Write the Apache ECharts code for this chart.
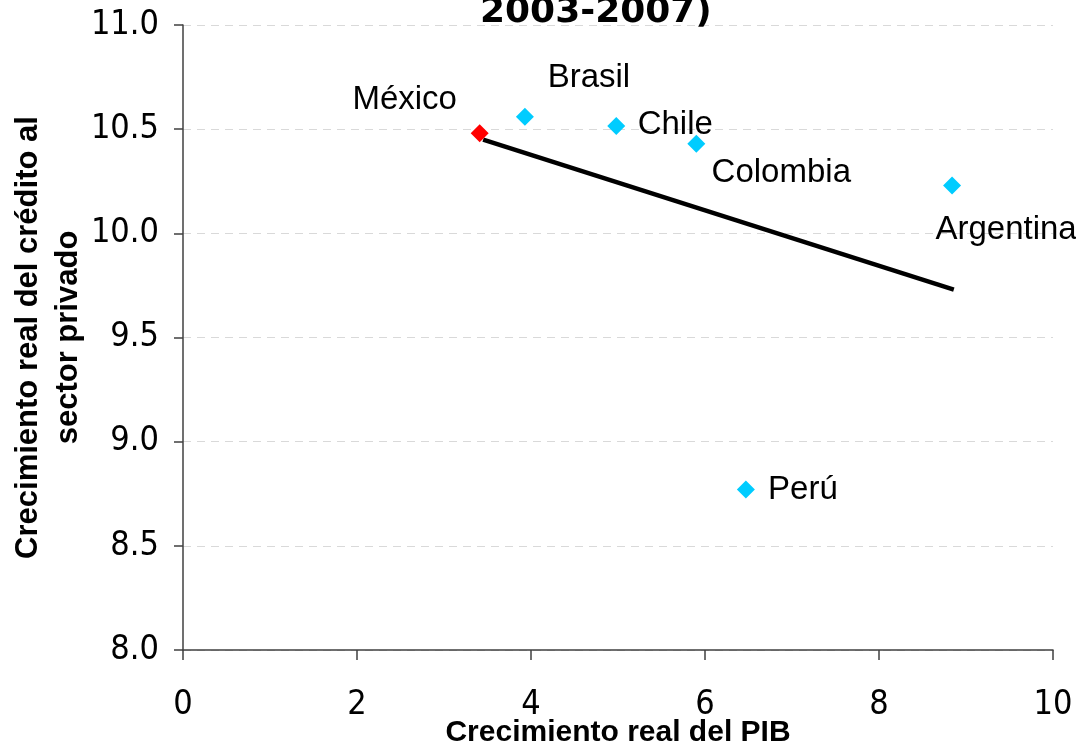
<!DOCTYPE html>
<html>
<head>
<meta charset="utf-8">
<script src="https://cdn.jsdelivr.net/npm/echarts@6/dist/echarts.min.js"></script>
<style>
html,body{margin:0;padding:0;background:#fff;}
#chart{width:1076px;height:753px;}
</style>
</head>
<body>
<div id="chart"></div>
<script>
// ---- data ----
const titleText = '2003-2007)';
const xAxisName = 'Crecimiento real del PIB';
const yAxisName = 'Crecimiento real del crédito al\nsector privado';
const countries = ['México', 'Brasil', 'Chile', 'Colombia', 'Argentina', 'Perú'];
const gdpGrowth = [3.41, 3.93, 4.98, 5.90, 8.84, 6.47];
const creditGrowth = [10.48, 10.56, 10.515, 10.43, 10.23, 8.77];
const trendX = [3.45, 8.86];
const trendY = [10.45, 9.73];
const highlightCountry = 'México';

// ---- styles ----
const labelOffsets = {
  'México': [-75, -33],
  'Brasil': [64, -39],
  'Chile': [59, -1],
  'Colombia': [85, 29],
  'Argentina': [54, 44],
  'Perú': [57, 0]
};
const tickFont = "'DejaVu Sans Condensed', 'DejaVu Sans', sans-serif";

const scatterData = countries.map((c, i) => ({
  name: c,
  value: [gdpGrowth[i], creditGrowth[i]],
  itemStyle: { color: c === highlightCountry ? '#ff0000' : '#00ccff', opacity: 1 },
  label: { offset: labelOffsets[c], color: '#000' }
}));
const trendData = trendX.map((x, i) => [x, trendY[i]]);

const chart = echarts.init(document.getElementById('chart'), null, { renderer: 'canvas' });
chart.setOption({
  animation: false,
  backgroundColor: '#ffffff',
  title: {
    text: titleText,
    left: 475,
    top: -10,
    textStyle: { fontFamily: "'DejaVu Sans', sans-serif", fontWeight: 'bold', fontSize: 36, color: '#000' }
  },
  grid: { left: 183, right: 23, top: 25, bottom: 103, containLabel: false, outerBoundsMode: 'none' },
  xAxis: {
    type: 'value', min: 0, max: 10, interval: 2,
    name: xAxisName, nameLocation: 'middle', nameGap: 68, nameMoveOverlap: false,
    nameTextStyle: { fontFamily: "'Liberation Sans', Arial, sans-serif", fontWeight: 'bold', fontSize: 30, color: '#000' },
    axisLine: { show: true, onZero: false, lineStyle: { color: '#404040', width: 1.5 } },
    axisTick: { show: true, length: 10, lineStyle: { color: '#404040', width: 1.5 } },
    axisLabel: { margin: 38, fontFamily: tickFont, fontSize: 34, color: '#000' },
    splitLine: { show: false }
  },
  yAxis: {
    type: 'value', min: 8, max: 11, interval: 0.5,
    name: yAxisName, nameLocation: 'middle', nameGap: 95, nameRotate: 90, nameMoveOverlap: false,
    nameTextStyle: { fontFamily: "'Liberation Sans', Arial, sans-serif", fontWeight: 'bold', fontSize: 31, lineHeight: 40, color: '#000', align: 'center' },
    axisLine: { show: true, lineStyle: { color: '#404040', width: 1.5 } },
    axisTick: { show: true, length: 9, lineStyle: { color: '#404040', width: 1.5 } },
    axisLabel: { margin: 24, fontFamily: tickFont, fontSize: 34, color: '#000', formatter: v => v.toFixed(1) },
    splitLine: { show: true, lineStyle: { color: '#d9d9d9', type: [8, 6], width: 1 } }
  },
  series: [
    {
      type: 'line',
      data: trendData,
      symbol: 'none',
      lineStyle: { color: '#000', width: 4.5 },
      z: 2
    },
    {
      type: 'scatter',
      data: scatterData,
      symbol: 'diamond',
      symbolSize: 18,
      itemStyle: { opacity: 1 },
      z: 3,
      label: {
        show: true,
        position: 'inside',
        formatter: p => p.name,
        fontFamily: "'Liberation Sans', Arial, sans-serif",
        fontSize: 33,
        color: '#000',
        textBorderWidth: 0
      }
    }
  ]
});
</script>
</body>
</html>
